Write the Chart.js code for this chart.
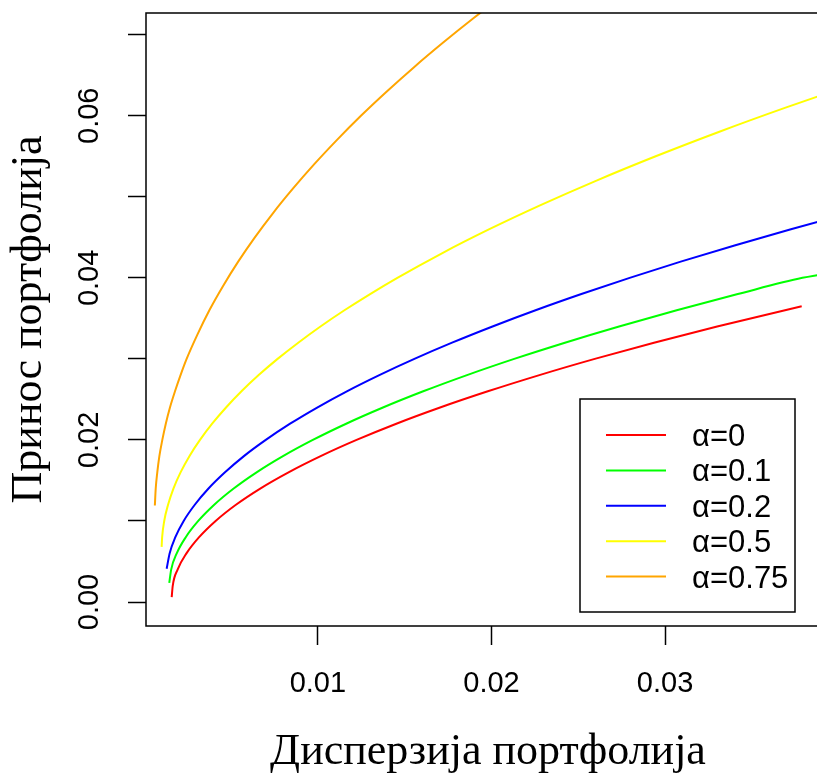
<!DOCTYPE html>
<html>
    <head>
        <meta charset="utf-8">
        <script src="https://cdn.jsdelivr.net/npm/chart.js@4.4.0/dist/chart.umd.min.js"></script>
        <style>
            body { margin: 0; overflow: hidden; background: #fff; }
        </style>
    </head>
    <body>
        <canvas id="frontierChart" width="850" height="779"></canvas>

        <script type="text/javascript">
        // variance (x) and return (y), one pair of arrays per alpha
        var seriesLabels = ['\u03b1=0', '\u03b1=0.1', '\u03b1=0.2', '\u03b1=0.5', '\u03b1=0.75'];
        var seriesColors = ['#ff0000', '#00ff00', '#0000ff', '#ffff00', '#ffa500'];

        var varA0 = [0.00158, 0.00164, 0.00192, 0.00243, 0.00316, 0.00411, 0.00528, 0.00668, 0.00831, 0.01016, 0.01223, 0.01452, 0.01704, 0.01979, 0.02276, 0.02595, 0.02936, 0.03300, 0.03787];
        var retA0 = [0.0006, 0.002, 0.004, 0.006, 0.008, 0.010, 0.012, 0.014, 0.016, 0.018, 0.020, 0.022, 0.024, 0.026, 0.028, 0.030, 0.032, 0.034, 0.0365];

        var varA1 = [0.00144, 0.00155, 0.00187, 0.00239, 0.00311, 0.00403, 0.00515, 0.00647, 0.00799, 0.00971, 0.01163, 0.01375, 0.01607, 0.01859, 0.02131, 0.02423, 0.02735, 0.03067, 0.03419, 0.03791, 0.04085];
        var retA1 = [0.00235, 0.004, 0.006, 0.008, 0.010, 0.012, 0.014, 0.016, 0.018, 0.020, 0.022, 0.024, 0.026, 0.028, 0.030, 0.032, 0.034, 0.036, 0.038, 0.040, 0.041];

        var varA2 = [0.00129, 0.00146, 0.00179, 0.00227, 0.00291, 0.00370, 0.00465, 0.00574, 0.00700, 0.00840, 0.00996, 0.01167, 0.01354, 0.01556, 0.01773, 0.02006, 0.02254, 0.02518, 0.02796, 0.03090, 0.03400, 0.03725, 0.04065];
        var retA2 = [0.0041, 0.006, 0.008, 0.010, 0.012, 0.014, 0.016, 0.018, 0.020, 0.022, 0.024, 0.026, 0.028, 0.030, 0.032, 0.034, 0.036, 0.038, 0.040, 0.042, 0.044, 0.046, 0.048];

        var varA5 = [0.00100, 0.00103, 0.00115, 0.00137, 0.00168, 0.00209, 0.00260, 0.00321, 0.00391, 0.00471, 0.00560, 0.00659, 0.00768, 0.00887, 0.01015, 0.01153, 0.01301, 0.01458, 0.01712, 0.01988, 0.02286, 0.02605, 0.02946, 0.03309, 0.03694, 0.04101];
        var retA5 = [0.0068, 0.008, 0.010, 0.012, 0.014, 0.016, 0.018, 0.020, 0.022, 0.024, 0.026, 0.028, 0.030, 0.032, 0.034, 0.036, 0.038, 0.040, 0.043, 0.046, 0.049, 0.052, 0.055, 0.058, 0.061, 0.064];

        var varA75 = [0.00061, 0.00066, 0.00075, 0.00087, 0.00104, 0.00124, 0.00148, 0.00177, 0.00209, 0.00244, 0.00306, 0.00375, 0.00454, 0.00541, 0.00637, 0.00742, 0.00856, 0.00978, 0.01109, 0.01248, 0.01397, 0.01554, 0.01720, 0.01894, 0.02047];
        var retA75 = [0.0119, 0.014, 0.016, 0.018, 0.020, 0.022, 0.024, 0.026, 0.028, 0.030, 0.033, 0.036, 0.039, 0.042, 0.045, 0.048, 0.051, 0.054, 0.057, 0.060, 0.063, 0.066, 0.069, 0.072, 0.0745];

        var xTickValues = [0.01, 0.02, 0.03];
        var xTickLabels = ['0.01', '0.02', '0.03'];
        var yTickValues = [0, 0.01, 0.02, 0.03, 0.04, 0.05, 0.06, 0.07];
        var yTickLabels = ['0.00', '', '0.02', '', '0.04', '', '0.06', ''];

        var xs = [varA0, varA1, varA2, varA5, varA75];
        var ys = [retA0, retA1, retA2, retA5, retA75];

        function toPoints(xv, yv) {
            return xv.map(function(x, i) { return {x: x, y: yv[i]}; });
        }

        var datasets = seriesLabels.map(function(label, i) {
            return {
                label: label,
                data: toPoints(xs[i], ys[i]),
                borderColor: seriesColors[i],
                backgroundColor: seriesColors[i],
                borderWidth: 2,
                pointRadius: 0,
                fill: false,
                cubicInterpolationMode: 'monotone'
            };
        });

        // R style box round the plot area
        var boxPlugin = {
            id: 'plotBox',
            afterDatasetsDraw: function(chart) {
                var a = chart.chartArea;
                var ctx = chart.ctx;
                ctx.save();
                ctx.strokeStyle = '#000';
                ctx.lineWidth = 1.5;
                ctx.strokeRect(a.left, a.top, a.right - a.left, a.bottom - a.top);
                ctx.restore();
            }
        };

        // legend box inside the plot, bottom right
        var legendPlugin = {
            id: 'boxLegend',
            afterDraw: function(chart) {
                var ctx = chart.ctx;
                ctx.save();
                ctx.fillStyle = '#fff';
                ctx.fillRect(580, 399, 215, 213);
                ctx.strokeStyle = '#000';
                ctx.lineWidth = 1.5;
                ctx.strokeRect(580, 399, 215, 213);
                ctx.font = '31px "Liberation Sans"';
                ctx.textBaseline = 'middle';
                ctx.textAlign = 'left';
                chart.data.datasets.forEach(function(ds, i) {
                    var y = 435 + i * 35.4;
                    ctx.strokeStyle = ds.borderColor;
                    ctx.lineWidth = 2;
                    ctx.beginPath();
                    ctx.moveTo(606, y);
                    ctx.lineTo(666, y);
                    ctx.stroke();
                    ctx.fillStyle = '#000';
                    ctx.fillText(ds.label, 692, y + 2.5);
                });
                ctx.restore();
            }
        };

        const config = {
            type: 'line',
            data: { datasets: datasets },
            plugins: [boxPlugin, legendPlugin],
            options: {
                responsive: false,
                animation: false,
                devicePixelRatio: 1,
                layout: { padding: { top: 13, right: 20, left: 0, bottom: 0 } },
                plugins: {
                    legend: { display: false },
                    tooltip: { enabled: false }
                },
                scales: {
                    x: {
                        type: 'linear',
                        min: 0.0001,
                        max: 0.0395,
                        afterBuildTicks: function(scale) {
                            scale.ticks = xTickValues.map(function(v) { return {value: v}; });
                        },
                        afterFit: function(scale) {
                            scale.height = 153;
                            scale.paddingLeft = 0;
                            scale.paddingRight = 0;
                        },
                        border: { display: false },
                        grid: { drawOnChartArea: false, drawTicks: true, tickLength: 19, tickColor: '#000', tickWidth: 1.5 },
                        ticks: {
                            autoSkip: false,
                            maxRotation: 0,
                            padding: 22,
                            color: '#000',
                            font: { family: 'Liberation Sans', size: 29 },
                            callback: function(v, i) { return xTickLabels[i]; }
                        },
                        title: {
                            display: true,
                            text: '\u0414\u0438\u0441\u043f\u0435\u0440\u0437\u0438\u0458\u0430 \u043f\u043e\u0440\u0442\u0444\u043e\u043b\u0438\u0458\u0430',
                            color: '#000',
                            font: { family: 'Liberation Serif', size: 44 },
                            padding: { top: 0, bottom: 0 }
                        }
                    },
                    y: {
                        type: 'linear',
                        min: -0.00296,
                        max: 0.07268,
                        afterBuildTicks: function(scale) {
                            scale.ticks = yTickValues.map(function(v) { return {value: v}; });
                        },
                        afterFit: function(scale) {
                            scale.width = 146;
                            scale.paddingTop = 0;
                            scale.paddingBottom = 0;
                        },
                        border: { display: false },
                        grid: { drawOnChartArea: false, drawTicks: true, tickLength: 18, tickColor: '#000', tickWidth: 1.5 },
                        ticks: {
                            autoSkip: false,
                            minRotation: 90,
                            maxRotation: 90,
                            crossAlign: 'center',
                            padding: 10,
                            color: '#000',
                            font: { family: 'Liberation Sans', size: 29 },
                            callback: function(v, i) { return yTickLabels[i]; }
                        },
                        title: {
                            display: true,
                            text: '\u041f\u0440\u0438\u043d\u043e\u0441 \u043f\u043e\u0440\u0442\u0444\u043e\u043b\u0438\u0458\u0430',
                            color: '#000',
                            font: { family: 'Liberation Serif', size: 44 },
                            padding: { top: 3, bottom: 0 }
                        }
                    }
                }
            }
        };

        new Chart(document.getElementById('frontierChart'), config);
        </script>
    </body>
</html>
